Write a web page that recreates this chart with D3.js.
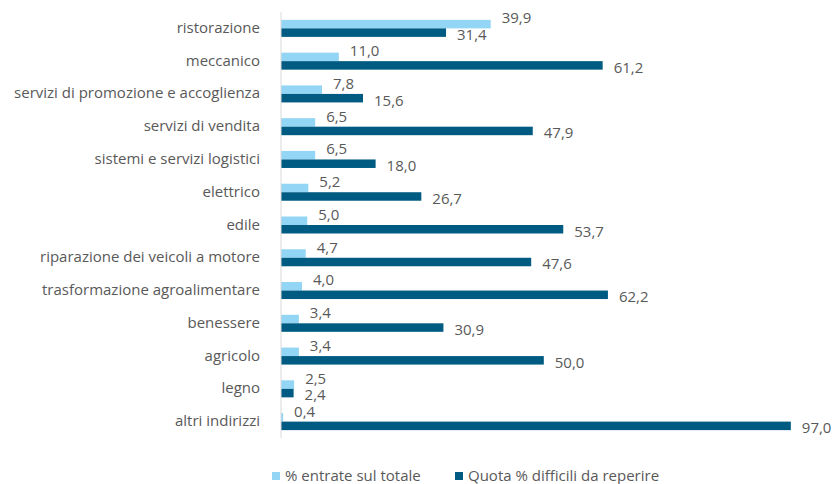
<!DOCTYPE html>
<html>
<head>
<meta charset="utf-8">
<script src="https://cdn.jsdelivr.net/npm/d3@7"></script>
<style>
  body { margin: 0; background: #fff; }
  svg text { font-family: "Open Sans", sans-serif; fill: #595959; }
</style>
</head>
<body>
<div id="chart"></div>
<script>
const categories = ["ristorazione", "meccanico", "servizi di promozione e accoglienza", "servizi di vendita",
    "sistemi e servizi logistici", "elettrico", "edile", "riparazione dei veicoli a motore",
    "trasformazione agroalimentare", "benessere", "agricolo", "legno", "altri indirizzi"];
const entrate = [39.9, 11.0, 7.8, 6.5, 6.5, 5.2, 5.0, 4.7, 4.0, 3.4, 3.4, 2.5, 0.4];
const difficili = [31.4, 61.2, 15.6, 47.9, 18.0, 26.7, 53.7, 47.6, 62.2, 30.9, 50.0, 2.4, 97.0];
const seriesNames = ["% entrate sul totale", "Quota % difficili da reperire"];
const colors = ["#92D5F4", "#005B82"];

const width = 835, height = 484;

const svg = d3.select("#chart").append("svg")
    .attr("width", width)
    .attr("height", height);

const x = d3.scaleLinear()
    .domain([0, 100])
    .range([281, 806.6]);

const y = d3.scaleBand()
    .domain(categories)
    .range([12, 438])
    .paddingInner(0)
    .paddingOuter(0);

const barH = 8.5;

let rows = categories.map((c, i) => ({cat: c, a: entrate[i], b: difficili[i]}));

// category labels
svg.append("g").selectAll("text")
    .data(rows)
    .enter().append("text")
    .attr("x", 260)
    .attr("y", d => y(d.cat) + y.bandwidth() / 2)
    .attr("dy", "0.3em")
    .attr("text-anchor", "end")
    .style("font-size", "15px")
    .text(d => d.cat);

// bars
let g = svg.append("g");
g.selectAll(".bar-a")
    .data(rows)
    .enter().append("rect")
    .attr("class", "bar-a")
    .attr("x", x(0))
    .attr("y", d => y(d.cat) + y.bandwidth() / 2 - barH)
    .attr("width", d => x(d.a) - x(0))
    .attr("height", barH)
    .attr("fill", colors[0]);

g.selectAll(".bar-b")
    .data(rows)
    .enter().append("rect")
    .attr("class", "bar-b")
    .attr("x", x(0))
    .attr("y", d => y(d.cat) + y.bandwidth() / 2)
    .attr("width", d => x(d.b) - x(0))
    .attr("height", barH)
    .attr("fill", colors[1]);

const fmt = v => d3.format(".1f")(v).replace(".", ",");

// value labels (light ones sit near the top of their bar, dark ones a bit below centre)
g.selectAll(".lab-a")
    .data(rows)
    .enter().append("text")
    .attr("x", d => x(d.a) + 11)
    .attr("y", d => y(d.cat) + y.bandwidth() / 2 - barH - 2)
    .attr("dy", "0.36em")
    .style("font-size", "15px")
    .text(d => fmt(d.a));

g.selectAll(".lab-b")
    .data(rows)
    .enter().append("text")
    .attr("x", d => x(d.b) + 11)
    .attr("y", d => y(d.cat) + y.bandwidth() / 2 + barH / 2 + 2)
    .attr("dy", "0.36em")
    .style("font-size", "15px")
    .text(d => fmt(d.b));

// axis line
svg.append("line")
    .attr("x1", x(0)).attr("x2", x(0))
    .attr("y1", 12).attr("y2", 438)
    .attr("stroke", "#D9D9D9")
    .attr("stroke-width", 1);

// legend
const legendX = [272, 455];
let legend = svg.append("g").selectAll("g")
    .data(seriesNames)
    .enter().append("g")
    .attr("transform", (d, i) => `translate(${legendX[i]},472)`);

legend.append("rect")
    .attr("width", 8)
    .attr("height", 8)
    .attr("fill", (d, i) => colors[i]);

legend.append("text")
    .attr("x", 13)
    .attr("y", 4)
    .attr("dy", "0.33em")
    .style("font-size", "15px")
    .text(d => d);
</script>
</body>
</html>
